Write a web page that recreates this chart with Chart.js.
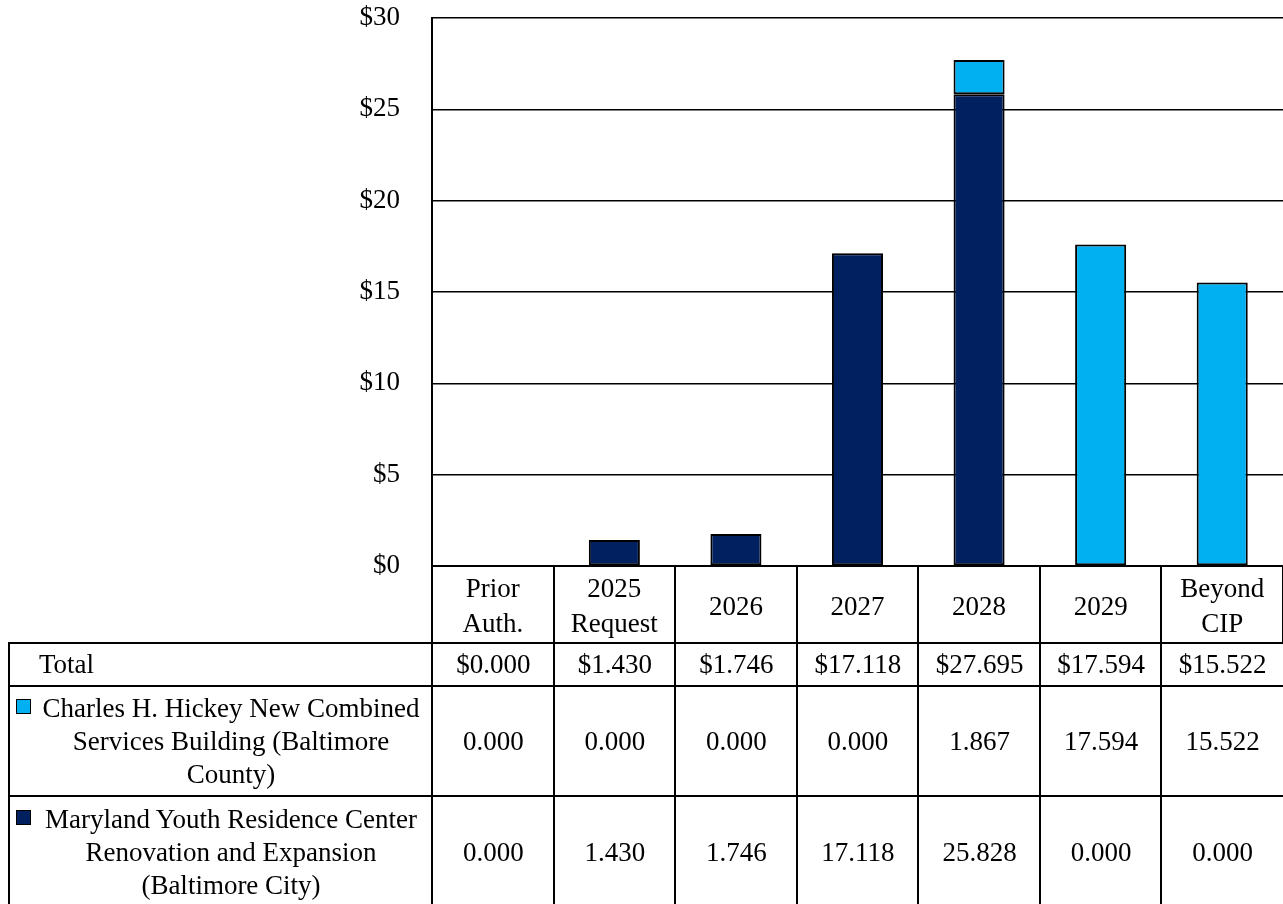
<!DOCTYPE html>
<html>
<head>
<meta charset="utf-8">
<title>Capital funding chart</title>
<script src="https://cdn.jsdelivr.net/npm/chart.js@4.4.1/dist/chart.umd.min.js"></script>
<style>
  html, body { margin: 0; padding: 0; background: #fff; overflow: hidden; }
  #wrap { position: relative; width: 1283px; height: 904px; font-family: "Liberation Serif", "Times New Roman", serif; color: #000; }
  #chart { position: absolute; left: 0; top: 0; }
  .cell { position: absolute; box-sizing: border-box; border-left: 2px solid #000; border-top: 2px solid #000;
          display: flex; align-items: center; justify-content: center; text-align: center;
          font-size: 27px; line-height: 33px; white-space: nowrap; }
  .label { justify-content: center; padding: 0 9px 0 29px; }
  .label.total { justify-content: flex-start; }
  .swatch { position: absolute; left: 6px; width: 15px; height: 15px; box-sizing: border-box; border: 1px solid #000; }
</style>
</head>
<body>
<div id="wrap">
  <canvas id="chart" width="1283" height="904"></canvas>
</div>
<script>
// categories (x axis), multi-line where the original wraps
const categories = [["Prior", "Auth."], ["2025", "Request"], "2026", "2027", "2028", "2029", ["Beyond", "CIP"]];

// series values ($ millions)
const hickeyValues = [0.000, 0.000, 0.000, 0.000, 1.867, 17.594, 15.522];
const marylandValues = [0.000, 1.430, 1.746, 17.118, 25.828, 0.000, 0.000];

// series names as they wrap in the table
const hickeyName = ["Charles H. Hickey New Combined", "Services Building (Baltimore", "County)"];
const marylandName = ["Maryland Youth Residence Center", "Renovation and Expansion", "(Baltimore City)"];
const totalLabel = "Total";

// y axis
const yMin = 0;
const yMax = 30;
const yStep = 5;

const hickeyColor = "#00B0F0";
const marylandColor = "#002060";

Chart.defaults.font.family = '"Liberation Serif", "Times New Roman", serif';
Chart.defaults.font.size = 27;
Chart.defaults.color = "#000";

const chartBottom = 566;   // y of the $0 line
const headerBottom = 643;  // bottom of the category header row

const ctx = document.getElementById("chart").getContext("2d");
const chart = new Chart(ctx, {
  type: "bar",
  data: {
    labels: categories,
    datasets: [
      {
        label: marylandName.join(" "),
        data: marylandValues,
        backgroundColor: marylandColor,
        borderColor: "#000",
        borderWidth: (c) => (c.raw ? 2 : 0),
        borderSkipped: false,
      },
      {
        label: hickeyName.join(" "),
        data: hickeyValues,
        backgroundColor: hickeyColor,
        borderColor: "#000",
        borderWidth: (c) => (c.raw ? 2 : 0),
        borderSkipped: false,
      },
    ],
  },
  options: {
    responsive: false,
    animation: false,
    devicePixelRatio: 1,
    layout: { padding: { top: 18, right: 0, bottom: 0, left: 0 } },
    datasets: { bar: { categoryPercentage: 1, barPercentage: 0.42 } },
    plugins: { legend: { display: false }, tooltip: { enabled: false } },
    scales: {
      x: {
        stacked: true,
        afterFit: (scale) => { scale.height = 904 - chartBottom; },
        grid: {
          offset: true,
          drawOnChartArea: false,
          drawTicks: true,
          tickLength: headerBottom - chartBottom,
          color: "#000",
          lineWidth: 2,
        },
        border: { display: true, color: "#000", width: 2 },
        ticks: {
          autoSkip: false,
          maxRotation: 0,
          minRotation: 0,
          crossAlign: "center",
          padding: -53,
          font: { size: 27, lineHeight: 1.3 },
          color: "#000",
        },
      },
      y: {
        stacked: true,
        min: yMin,
        max: yMax,
        afterFit: (scale) => { scale.width = 432; },
        // invisible tick marks keep the labels away from the axis
        grid: { color: "#000", lineWidth: 1.5, drawTicks: true, tickLength: 32, tickColor: "rgba(0,0,0,0)" },
        border: { display: true, color: "#000", width: 2 },
        ticks: {
          stepSize: yStep,
          padding: 0,
          font: { size: 27 },
          color: "#000",
          callback: (v) => "$" + v,
        },
      },
    },
  },
});

// data table under the chart, columns taken from the x scale
(function buildTable() {
  const wrap = document.getElementById("wrap");
  const xs = chart.scales.x;
  const colW = (chart.chartArea.right - chart.chartArea.left) / categories.length;
  const tableLeft = 9;
  const rowLines = [headerBottom, 686, 796, 908];

  const totals = hickeyValues.map((v, i) => v + marylandValues[i]);
  const rows = [
    { name: [totalLabel], values: totals.map((v) => "$" + v.toFixed(3)), total: true },
    { name: hickeyName, values: hickeyValues.map((v) => v.toFixed(3)), color: hickeyColor },
    { name: marylandName, values: marylandValues.map((v) => v.toFixed(3)), color: marylandColor },
  ];

  rows.forEach((row, r) => {
    const top = rowLines[r] - 1;
    const h = rowLines[r + 1] - rowLines[r];

    const lab = document.createElement("div");
    lab.className = "cell label" + (row.total ? " total" : "");
    lab.style.left = (tableLeft - 1) + "px";
    lab.style.top = top + "px";
    lab.style.width = (chart.chartArea.left - tableLeft + 1) + "px";
    lab.style.height = h + "px";
    const txt = document.createElement("div");
    txt.innerHTML = row.name.join("<br>");
    lab.appendChild(txt);
    if (row.color) {
      const sw = document.createElement("div");
      sw.className = "swatch";
      sw.style.background = row.color;
      sw.style.top = (Math.round((h - row.name.length * 33) / 2) + 6) + "px";
      lab.appendChild(sw);
    }
    wrap.appendChild(lab);

    row.values.forEach((val, i) => {
      const c = document.createElement("div");
      c.className = "cell";
      const left = xs.getPixelForTick(i) - colW / 2;
      c.style.left = (left - 1) + "px";
      c.style.top = top + "px";
      c.style.width = (colW + 1) + "px";
      c.style.height = h + "px";
      c.textContent = val;
      wrap.appendChild(c);
    });
  });
})();
</script>
</body>
</html>
